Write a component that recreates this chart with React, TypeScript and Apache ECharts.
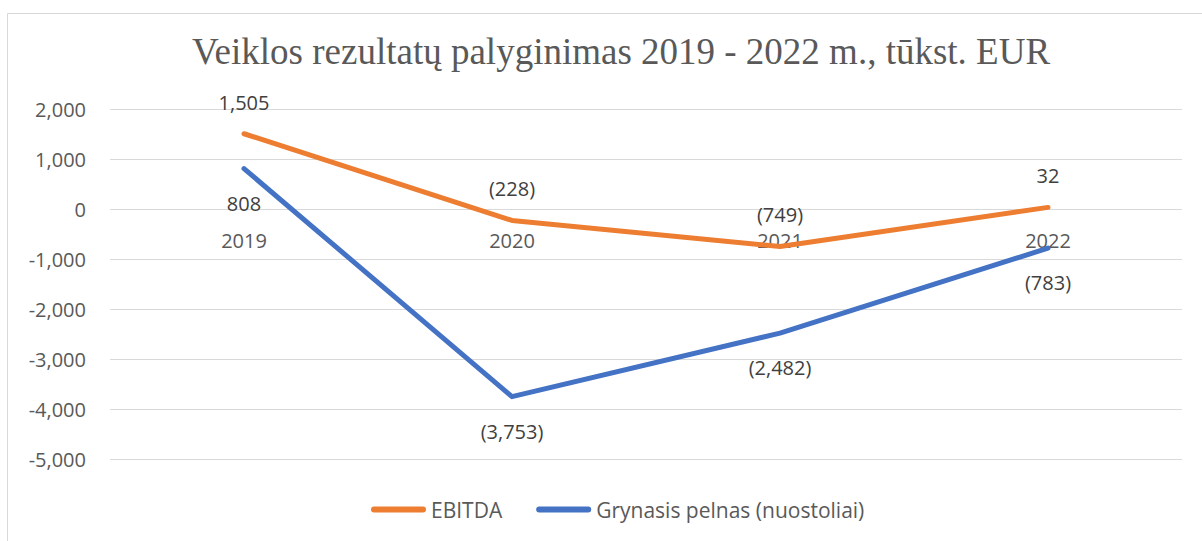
import React, { useEffect, useRef } from "react";
import * as echarts from "echarts";

const categories = ["2019", "2020", "2021", "2022"];
const ebitda = [1505, -228, -749, 32];
const netProfit = [808, -3753, -2482, -783];
const seriesNames = ["EBITDA", "Grynasis pelnas (nuostoliai)"];
const titleText = "Veiklos rezultatų palyginimas 2019 - 2022 m., tūkst. EUR";

const fmt = (v: number) => {
  const s = Math.abs(v).toLocaleString("en-US");
  return v < 0 ? `(${s})` : s;
};

export default function App() {
  const ref = useRef<HTMLDivElement>(null);
  useEffect(() => {
    if (!ref.current) return;
    const chart = echarts.init(ref.current, undefined, { renderer: "svg" });
    const font = "'Open Sans', sans-serif";
    const fs = 20;
    chart.setOption({
      animation: false,
      backgroundColor: "#ffffff",
      title: {
        text: titleText,
        left: 187,
        top: 28,
        textStyle: {
          fontFamily: "'Liberation Serif', serif",
          fontSize: 37,
          fontWeight: "normal",
          color: "#595959",
        },
      },
      graphic: [
        {
          type: "rect",
          shape: { x: 7.5, y: 13.5, width: 1200, height: 540 },
          style: { fill: "none", stroke: "#d9d9d9", lineWidth: 1 },
          silent: true,
        },
      ],
      legend: {
        bottom: 16,
        left: 366,
        itemWidth: 55,
        itemHeight: 6,
        itemGap: 34,
        icon: "path://M3,0 L52,0 A3,3 0 0 1 52,6 L3,6 A3,3 0 0 1 3,0 Z",
        textStyle: { fontFamily: font, fontSize: 21, color: "#595959" },
        data: [
          { name: seriesNames[0], itemStyle: { color: "#ED7D31" } },
          { name: seriesNames[1], itemStyle: { color: "#4472C4" } },
        ],
      },
      grid: { left: 110, right: 20, top: 109, bottom: 82 },
      xAxis: {
        type: "category",
        data: categories,
        boundaryGap: true,
        offset: -250,
        axisLine: { show: false, onZero: false },
        axisTick: { show: false },
        axisLabel: { fontFamily: font, fontSize: fs, color: "#595959", margin: 21 },
      },
      yAxis: {
        type: "value",
        min: -5000,
        max: 2000,
        interval: 1000,
        axisLine: { show: false },
        axisTick: { show: false },
        splitLine: { lineStyle: { color: "#d9d9d9", width: 1 } },
        axisLabel: {
          fontFamily: font,
          fontSize: fs,
          color: "#595959",
          margin: 24,
          formatter: (v: number) => v.toLocaleString("en-US"),
        },
      },
      series: [
        {
          name: seriesNames[0],
          type: "line",
          data: ebitda,
          color: "#ED7D31",
          symbol: "circle",
          symbolSize: 1,
          showSymbol: true,
          itemStyle: { color: "#ED7D31" },
          lineStyle: { width: 5, color: "#ED7D31", cap: "round", join: "round" },
          label: {
            show: true,
            position: "top",
            distance: 21,
            fontFamily: font,
            fontSize: fs,
            color: "#404040",
            formatter: (p: any) => fmt(p.value),
          },
          z: 3,
        },
        {
          name: seriesNames[1],
          type: "line",
          data: netProfit,
          color: "#4472C4",
          symbol: "circle",
          symbolSize: 1,
          showSymbol: true,
          itemStyle: { color: "#4472C4" },
          lineStyle: { width: 5, color: "#4472C4", cap: "round", join: "round" },
          label: {
            show: true,
            position: "bottom",
            distance: 24,
            fontFamily: font,
            fontSize: fs,
            color: "#404040",
            formatter: (p: any) => fmt(p.value),
          },
          z: 2,
        },
      ],
    });
    return () => chart.dispose();
  }, []);
  return (
    <div
      ref={ref}
      style={{ position: "fixed", left: 0, top: 0, width: 1202, height: 541 }}
    />
  );
}
